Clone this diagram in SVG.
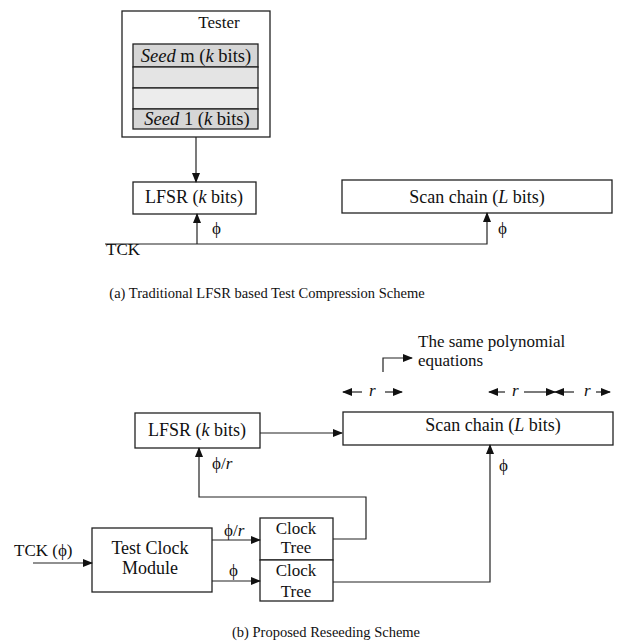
<svg xmlns="http://www.w3.org/2000/svg" width="618" height="643" viewBox="0 0 618 643">
<style>
text{font-family:"Liberation Serif","DejaVu Serif",serif;fill:#111}
.box{fill:#fff;stroke:#222;stroke-width:1.3}
.row{stroke:#222;stroke-width:1.3}
.ln{fill:none;stroke:#222;stroke-width:1.2}
.arr{marker-end:url(#ah)}
.m{text-anchor:middle}
.f18{font-size:18px}
.f17{font-size:17px}
.cap{font-size:14.5px}
</style>
<defs>
<marker id="ah" markerUnits="userSpaceOnUse" markerWidth="10" markerHeight="8" refX="9" refY="4" orient="auto">
<path d="M0,0 L10,4 L0,8 z" fill="#111"/>
</marker>
</defs>

<!-- (a) -->
<g id="tester">
<rect class="box" x="122" y="11" width="148" height="126"/>
<text class="m f17" x="219" y="28">Tester</text>
<rect class="row" x="133" y="44" width="125" height="23" fill="#d6d6d6"/>
<rect class="row" x="133" y="67" width="125" height="21" fill="#e4e4e4"/>
<rect class="row" x="133" y="88" width="125" height="21" fill="#ececec"/>
<rect class="row" x="133" y="109" width="125" height="20" fill="#d6d6d6"/>
<text class="m" x="196" y="62" font-size="18.5"><tspan font-style="italic">Seed</tspan> m (<tspan font-style="italic">k</tspan> bits)</text>
<text class="m" x="197" y="125" font-size="18.5"><tspan font-style="italic">Seed</tspan> 1 (<tspan font-style="italic">k</tspan> bits)</text>
</g>
<g id="lfsr_a">
<rect class="box" x="133" y="182" width="123" height="32"/>
<text class="m f18" x="194" y="203">LFSR (<tspan font-style="italic">k</tspan> bits)</text>
</g>
<g id="scan_a">
<rect class="box" x="342" y="180" width="270" height="33"/>
<text class="m f18" x="477" y="203">Scan chain (<tspan font-style="italic">L</tspan> bits)</text>
</g>
<g id="connectors_a">
<line class="ln arr" x1="196" y1="137" x2="196" y2="182"/>
<polyline class="ln arr" points="105,244 487,244 487,213"/>
<line class="ln arr" x1="197" y1="244" x2="197" y2="214"/>
</g>
<g id="labels_a">
<text class="f17" x="212" y="234">ϕ</text>
<text class="f17" x="498" y="234">ϕ</text>
<text class="f17" x="106" y="255">TCK</text>
<text class="cap m" x="267" y="298">(a) Traditional LFSR based Test Compression Scheme</text>
</g>

<!-- (b) -->
<g id="lfsr_b">
<rect class="box" x="135" y="413" width="125" height="35"/>
<text class="m f18" x="197" y="436">LFSR (<tspan font-style="italic">k</tspan> bits)</text>
</g>
<g id="scan_b">
<rect class="box" x="343" y="412" width="270" height="33"/>
<text class="m f18" x="493" y="431">Scan chain (<tspan font-style="italic">L</tspan> bits)</text>
</g>
<g id="tcm">
<rect class="box" x="92" y="528" width="120" height="64"/>
<text class="m f18" x="150" y="554">Test Clock</text>
<text class="m f18" x="150" y="574">Module</text>
</g>
<g id="clocktree1">
<rect class="box" x="260" y="518" width="73" height="42"/>
<text class="m f17" x="296" y="534">Clock</text>
<text class="m f17" x="296" y="553">Tree</text>
</g>
<g id="clocktree2">
<rect class="box" x="260" y="560" width="73" height="41"/>
<text class="m f17" x="296" y="576">Clock</text>
<text class="m f17" x="296" y="597">Tree</text>
</g>
<g id="connectors_b">
<line class="ln arr" x1="33" y1="563" x2="92" y2="563"/>
<line class="ln arr" x1="212" y1="540" x2="260" y2="540"/>
<line class="ln arr" x1="212" y1="581" x2="260" y2="581"/>
<polyline class="ln arr" points="333,539 366,539 366,497 199,497 199,448"/>
<polyline class="ln arr" points="333,582 490,582 490,445"/>
<line class="ln arr" x1="260" y1="433" x2="342" y2="433"/>
<polyline class="ln arr" points="383,372 383,358 412,358"/>
<line class="ln arr" x1="362" y1="392" x2="343" y2="392"/>
<line class="ln arr" x1="385" y1="392" x2="402" y2="392"/>
<line class="ln arr" x1="505" y1="392" x2="489" y2="392"/>
<line class="ln arr" x1="524" y1="392" x2="555" y2="392"/>
<line class="ln arr" x1="574" y1="392" x2="555" y2="392"/>
<line class="ln arr" x1="596" y1="392" x2="610" y2="392"/>
</g>
<g id="labels_b">
<text class="f17" x="418" y="347">The same polynomial</text>
<text class="f17" x="418" y="366">equations</text>
<text class="f17" x="369" y="396" font-style="italic">r</text>
<text class="f17" x="512" y="396" font-style="italic">r</text>
<text class="f17" x="584" y="396" font-style="italic">r</text>
<text class="f17" x="212" y="469">ϕ/<tspan font-style="italic">r</tspan></text>
<text class="f17" x="224" y="536">ϕ/<tspan font-style="italic">r</tspan></text>
<text class="f17" x="229" y="576">ϕ</text>
<text class="f17" x="499" y="471">ϕ</text>
<text class="f17" x="14" y="556">TCK (ϕ)</text>
<text class="cap" x="232" y="637">(b) Proposed Reseeding Scheme</text>
</g>
</svg>
